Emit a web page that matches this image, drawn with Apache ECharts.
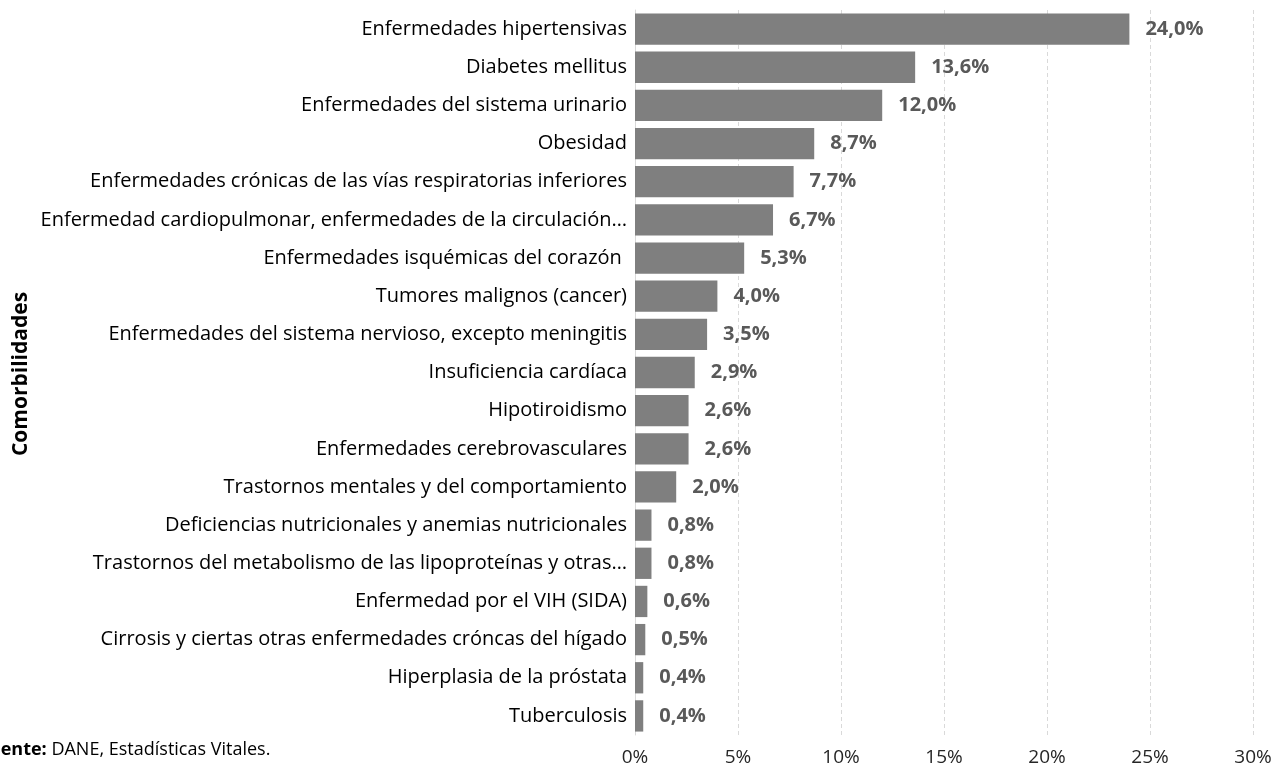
<!DOCTYPE html>
<html>
<head>
<meta charset="utf-8">
<script src="https://cdn.jsdelivr.net/npm/echarts@6/dist/echarts.min.js"></script>
<style>
  html, body { margin: 0; padding: 0; background: #fff; }
  #chart { width: 1285px; height: 776px; }
</style>
</head>
<body>
<div id="chart"></div>
<script>
// Comorbilidades - porcentaje
const categories = [
  'Enfermedades hipertensivas',
  'Diabetes mellitus',
  'Enfermedades del sistema urinario',
  'Obesidad',
  'Enfermedades crónicas de las vías respiratorias inferiores',
  'Enfermedad cardiopulmonar, enfermedades de la circulación…',
  'Enfermedades isquémicas del corazón ',
  'Tumores malignos (cancer)',
  'Enfermedades del sistema nervioso, excepto meningitis',
  'Insuficiencia cardíaca',
  'Hipotiroidismo',
  'Enfermedades cerebrovasculares',
  'Trastornos mentales y del comportamiento',
  'Deficiencias nutricionales y anemias nutricionales',
  'Trastornos del metabolismo de las lipoproteínas y otras…',
  'Enfermedad por el VIH (SIDA)',
  'Cirrosis y ciertas otras enfermedades cróncas del hígado',
  'Hiperplasia de la próstata',
  'Tuberculosis'
];
const values = [24.0, 13.6, 12.0, 8.7, 7.7, 6.7, 5.3, 4.0, 3.5, 2.9, 2.6, 2.6, 2.0, 0.8, 0.8, 0.6, 0.5, 0.4, 0.4];
const xTicks = [0, 5, 10, 15, 20, 25, 30];

const FONT = '"Open Sans", "Noto Sans", sans-serif';

const chart = echarts.init(document.getElementById('chart'));

chart.setOption({
  animation: false,
  grid: {
    left: 635,
    right: 32,
    top: 10,
    bottom: 41
  },
  xAxis: {
    type: 'value',
    min: xTicks[0],
    max: xTicks[xTicks.length - 1],
    interval: 5,
    axisLine: { show: false },
    axisTick: { show: false },
    axisLabel: {
      margin: 13,
      color: '#262626',
      fontFamily: FONT,
      fontSize: 19,
      formatter: v => v + '%'
    },
    splitLine: {
      show: true,
      lineStyle: { color: '#d9d9d9', type: [4, 3], width: 1 }
    }
  },
  yAxis: {
    type: 'category',
    data: categories,
    inverse: true,
    axisLine: { show: true, lineStyle: { color: '#d9d9d9', width: 1 } },
    axisTick: { show: false },
    axisLabel: {
      margin: 8,
      color: '#000',
      fontFamily: FONT,
      fontSize: 20
    }
  },
  series: [{
    type: 'bar',
    data: values,
    barCategoryGap: '18%',
    itemStyle: { color: '#7f7f7f' },
    label: {
      show: true,
      position: 'right',
      distance: 16,
      color: '#595959',
      fontFamily: FONT,
      fontSize: 20,
      fontWeight: 'bold',
      formatter: p => p.value.toFixed(1).replace('.', ',') + '%'
    }
  }],
  graphic: [
    {
      type: 'text',
      x: 21,
      y: 374,
      rotation: Math.PI / 2,
      style: {
        text: 'Comorbilidades',
        fill: '#000',
        font: 'bold 21px ' + FONT,
        align: 'center',
        verticalAlign: 'middle'
      }
    },
    {
      type: 'text',
      x: -21,
      y: 750,
      style: {
        text: '{b|Fuente:} DANE, Estadísticas Vitales.',
        fill: '#000',
        font: '18px ' + FONT,
        verticalAlign: 'middle',
        rich: {
          b: { fontWeight: 'bold', fontFamily: FONT, fontSize: 18, fill: '#000' }
        }
      }
    }
  ]
});
</script>
</body>
</html>
